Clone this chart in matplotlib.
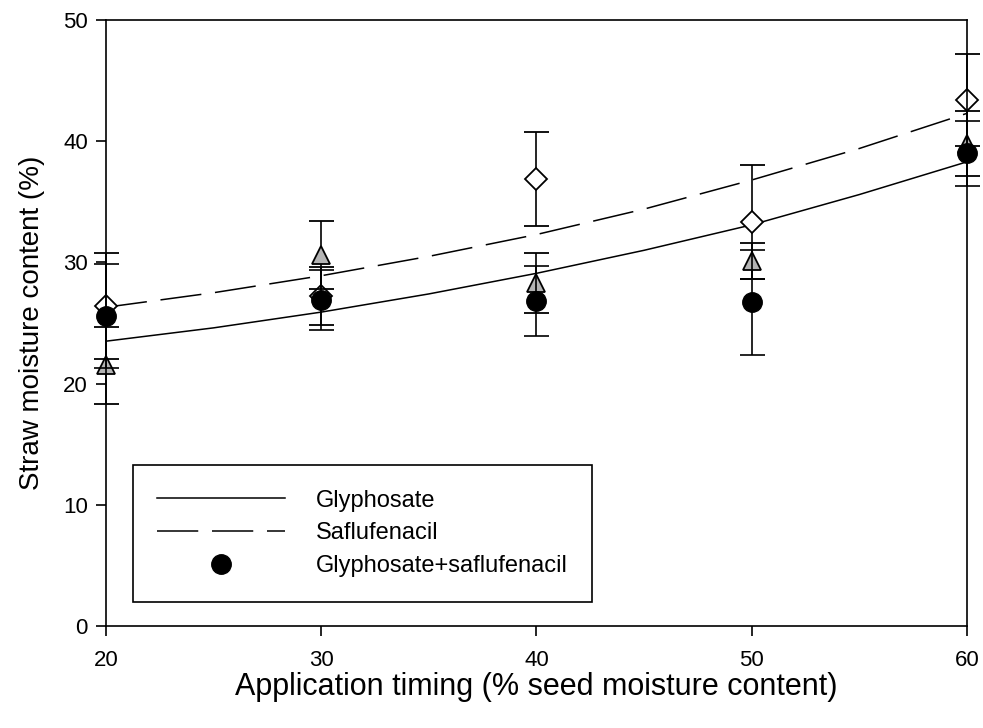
import matplotlib
matplotlib.use("Agg")
import matplotlib.pyplot as plt
from matplotlib.lines import Line2D

plt.rcParams['font.family'] = ['Liberation Sans', 'DejaVu Sans']

timing = [20, 30, 40, 50, 60]

# Glyphosate+saflufenacil (black circles)
gs_mean = [25.6, 26.9, 26.8, 26.7, 39.0]
gs_err = [4.3, 2.5, 2.9, 4.3, 2.7]
# Triangles (grey)
tri_mean = [21.5, 30.6, 28.3, 30.1, 39.8]
tri_err = [3.2, 2.8, 2.45, 1.5, 2.7]
# Diamonds (open)
dia_mean = [26.4, 27.2, 36.9, 33.3, 43.4]
dia_err = [4.4, 2.4, 3.9, 4.7, 3.8]

# Fitted curves
curve_x = [20, 25, 30, 35, 40, 45, 50, 55, 60]
glyph_curve = [23.5, 24.6, 25.9, 27.4, 29.1, 31.0, 33.1, 35.6, 38.3]
saflu_curve = [26.3, 27.5, 28.9, 30.5, 32.3, 34.4, 36.8, 39.4, 42.3]

fig = plt.figure(figsize=(9.83, 7.28), dpi=100)
ax = fig.add_axes([0.1078, 0.1401, 0.8759, 0.8324])

ax.plot(curve_x, glyph_curve, color='black', lw=1.1, zorder=2)
ax.plot(curve_x, saflu_curve, color='black', lw=1.1, dashes=(27, 9), zorder=2)

ekw = dict(ecolor='black', elinewidth=1.2, capsize=9, capthick=1.2, ls='none')
series = [
    (dia_mean, dia_err, dict(marker='D', ms=11, mfc='white', mec='black', mew=1.3), 3),
    (tri_mean, tri_err, dict(marker='^', ms=13, mfc='#b4b4b4', mec='black', mew=1.3), 4),
    (gs_mean, gs_err, dict(marker='o', ms=14, mfc='black', mec='black'), 5),
]
for m, e, mk, z in series:
    cont = ax.errorbar(timing, m, yerr=e, zorder=z, **mk, **ekw)
    for art in [cont.lines[0], *cont.lines[1], *cont.lines[2]]:
        art.set_clip_on(False)

ax.set_xlim(20, 60)
ax.set_ylim(0, 50)
ax.set_xticks([20, 30, 40, 50, 60])
ax.set_yticks([0, 10, 20, 30, 40, 50])
ax.tick_params(direction='out', length=7, width=1.2, labelsize=16)
ax.tick_params(axis='x', pad=10)
ax.tick_params(axis='y', pad=6)
for s in ax.spines.values():
    s.set_linewidth(1.2)
    s.set_zorder(6)

ax.set_xlabel('Application timing (% seed moisture content)', fontsize=22, labelpad=1)
ax.set_ylabel('Straw moisture content (%)', fontsize=20, labelpad=13)

handles = [
    Line2D([], [], color='black', lw=1.1),
    Line2D([], [], color='black', lw=1.1, dashes=(27, 9)),
    Line2D([], [], color='black', marker='o', ms=14, ls='none'),
]
labels = ['Glyphosate', 'Saflufenacil', 'Glyphosate+saflufenacil']
leg = ax.legend(handles, labels, loc='lower left', bbox_to_anchor=(0.031, 0.04),
                borderaxespad=0, fontsize=17, handlelength=5.4, handletextpad=1.3,
                labelspacing=0.45, borderpad=1.05, fancybox=False, frameon=True)
leg.get_frame().set_edgecolor('black')
leg.get_frame().set_linewidth(1.2)
leg.get_frame().set_alpha(1)
leg.set_zorder(7)

fig.savefig('out.png', dpi=100)
